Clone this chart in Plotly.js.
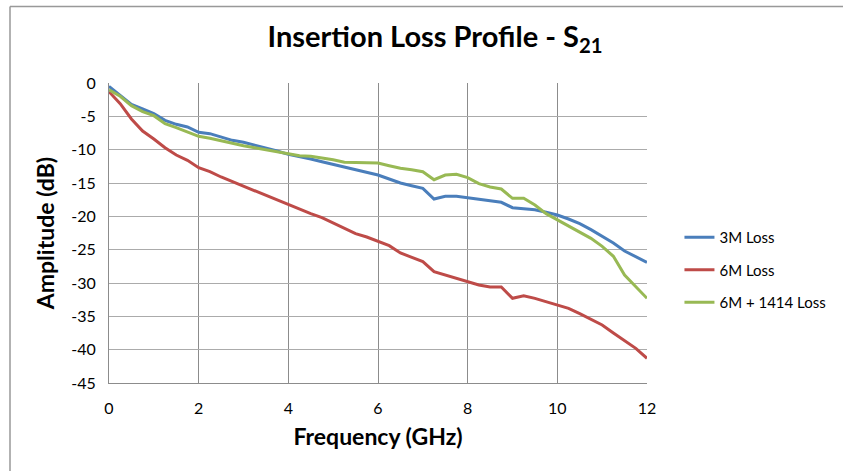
<!DOCTYPE html>
<html>
<head>
<meta charset="utf-8">
<script src="https://cdn.plot.ly/plotly-3.0.1.min.js"></script>
<style>html,body{margin:0;padding:0;background:#fff;overflow:hidden;}#chart{width:843px;height:471px;}</style>
</head>
<body>
<div id="chart"></div>
<script>
const freq = [0,0.25,0.5,0.75,1,1.25,1.5,1.75,2,2.25,2.5,2.75,3,3.25,3.5,3.75,4,4.25,4.5,4.75,5,5.25,5.5,5.75,6,6.25,6.5,6.75,7,7.25,7.5,7.75,8,8.25,8.5,8.75,9,9.25,9.5,9.75,10,10.25,10.5,10.75,11,11.25,11.5,11.75,12];
const loss3M = [-0.5,-1.8,-3.2,-3.9,-4.6,-5.6,-6.2,-6.6,-7.4,-7.6,-8.1,-8.6,-8.9,-9.3,-9.7,-10.2,-10.7,-11.0,-11.4,-11.8,-12.2,-12.6,-12.9,-13.3,-13.8,-14.4,-15.0,-15.4,-15.8,-17.4,-17.0,-17.0,-17.2,-17.5,-17.7,-17.9,-18.7,-18.8,-19.0,-19.4,-19.8,-20.4,-21.1,-22.0,-23.0,-24.0,-25.2,-26.1,-26.9];
const loss6M = [-1.3,-3.1,-5.4,-7.2,-8.4,-9.7,-10.8,-11.6,-12.7,-13.3,-14.1,-14.8,-15.4,-16.1,-16.8,-17.5,-18.3,-18.9,-19.6,-20.2,-21.0,-21.9,-22.6,-23.1,-23.7,-24.4,-25.5,-26.1,-26.8,-28.3,-28.8,-29.2,-29.8,-30.3,-30.6,-30.6,-32.3,-31.9,-32.3,-32.8,-33.2,-33.8,-34.6,-35.4,-36.3,-37.5,-38.6,-39.8,-41.3];
const loss6M1414 = [-1.0,-2.0,-3.4,-4.3,-4.9,-6.1,-6.7,-7.3,-8.0,-8.3,-8.7,-9.1,-9.4,-9.7,-10.0,-10.3,-10.6,-10.9,-11.0,-11.2,-11.5,-11.9,-11.9,-12.0,-12.0,-12.4,-12.8,-13.0,-13.3,-14.5,-13.8,-13.7,-14.2,-15.1,-15.6,-15.9,-17.3,-17.3,-18.3,-19.6,-20.5,-21.4,-22.3,-23.3,-24.5,-26.0,-28.8,-30.5,-32.3];
const seriesNames = ['3M Loss','6M Loss','6M + 1414 Loss'];
const xTicks = [0,2,4,6,8,10,12];
const yTicks = [0,-5,-10,-15,-20,-25,-30,-35,-40,-45];

const FONT = 'Lato, "Open Sans", sans-serif';
const colors = ['#4A7EBB','#BE4B48','#98B954'];
const ys = [loss3M, loss6M, loss6M1414];
const traces = ys.map((y,i)=>({
  x: freq, y: y, type:'scatter', mode:'lines', name: seriesNames[i],
  legendgroup: 'g'+i,
  line:{color:colors[i], width:3, shape:'linear'}
}));

const layout = {
  width:843, height:471,
  margin:{l:109, r:196, t:83, b:88},
  paper_bgcolor:'#fff', plot_bgcolor:'#fff',
  title:{text:'<b>Insertion Loss Profile - S<sub>21</sub></b>', font:{family:FONT, size:29, color:'#000', weight:900},
    xref:'paper', x:0.606, xanchor:'center', yref:'container', y:0.922, yanchor:'middle'},
  xaxis:{range:[0,12], tickvals:xTicks, ticktext:xTicks.map(String), showgrid:true, gridcolor:'#8c8c8c', gridwidth:1,
    zeroline:false, showline:true, linecolor:'#8c8c8c', linewidth:1, ticks:'outside', ticklen:11, tickcolor:'rgba(0,0,0,0)',
    automargin:false,
    tickfont:{family:FONT, size:16, color:'#000'},
    title:{text:'<b>Frequency (GHz)</b>', font:{family:FONT, size:23, color:'#000', weight:900}, standoff:12}},
  yaxis:{range:[-45,0], tickvals:yTicks, ticktext:yTicks.map(String), showgrid:true, gridcolor:'#ababab', gridwidth:1,
    zeroline:false, showline:true, linecolor:'#8c8c8c', linewidth:1, ticks:'outside', ticklen:9, tickcolor:'rgba(0,0,0,0)',
    automargin:false,
    tickfont:{family:FONT, size:16, color:'#000'},
    title:{text:'<b>Amplitude (dB)</b>', font:{family:FONT, size:23, color:'#000', weight:900}, standoff:10}},
  legend:{xref:'container', yref:'container', x:0.806, xanchor:'left', y:(471-270)/471, yanchor:'middle',
    font:{family:FONT, size:15, color:'#000'},
    tracegroupgap:10, bgcolor:'rgba(0,0,0,0)', itemwidth:30},
  showlegend:true,
  shapes:[
    {type:'line', xref:'paper', yref:'paper', x0:(10-109)/538, x1:(843-109)/538, y0:(383-6.5)/300, y1:(383-6.5)/300,
      line:{color:'#999999', width:1.5}, layer:'below'},
    {type:'line', xref:'paper', yref:'paper', x0:(10-109)/538, x1:(10-109)/538, y0:(383-6.5)/300, y1:(383-471)/300,
      line:{color:'#999999', width:1.5}, layer:'below'}
  ]
};
Plotly.newPlot('chart', traces, layout, {displayModeBar:false, staticPlot:true});
</script>
</body>
</html>
